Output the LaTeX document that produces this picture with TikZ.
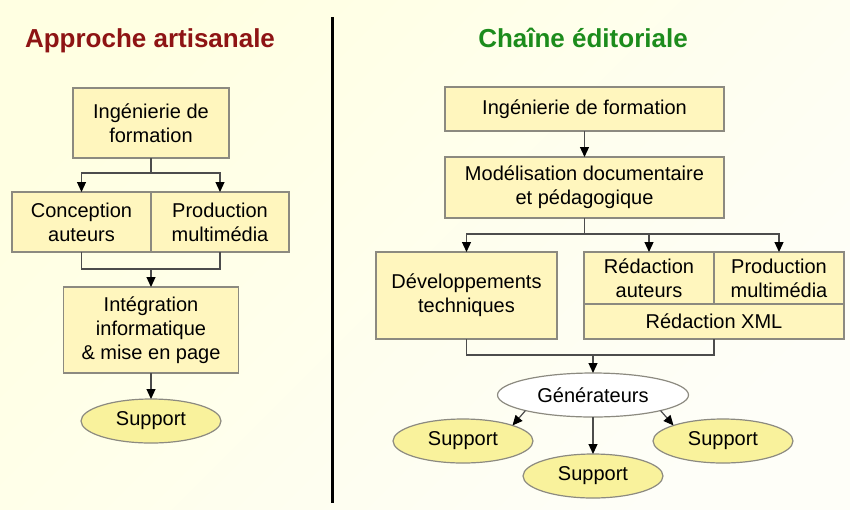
\documentclass[tikz,border=0pt]{standalone}
\usepackage{fontspec}
\setsansfont{Liberation Sans}
\usetikzlibrary{arrows.meta}
\usetikzlibrary{positioning}
\usetikzlibrary{shapes.geometric}
\definecolor{fondA}{HTML}{FFFFE2}
\definecolor{fondB}{HTML}{FEFEF8}
\definecolor{caseJaune}{HTML}{FFF6BE}
\definecolor{ovaleJaune}{HTML}{F9F29C}
\definecolor{cadre}{HTML}{8C8A80}
\definecolor{rougeTitre}{HTML}{8E1414}
\definecolor{vertTitre}{HTML}{1C8C1C}
\tikzset{
	>={Triangle[length=10pt,width=9pt,color=black]},
	bloc/.style={
		rectangle,
		draw=cadre, line width=1.2pt,
		fill=caseJaune,
		align=center,
		inner sep=0pt, outer sep=0pt},
	ovale/.style={
		ellipse,
		draw=cadre, line width=1.2pt,
		fill=ovaleJaune,
		inner sep=0pt, outer sep=0pt,
		minimum width=140pt,
		minimum height=44pt},
	titre/.style={font=\sffamily\bfseries\fontsize{26}{30}\selectfont, anchor=base},
	lien/.style={draw=black!70, line width=1.2pt},
	fleche/.style={lien, ->},
}

\begin{document}
\begin{tikzpicture}
	[x=1pt,y=-1pt,
	font=\sffamily\fontsize{20}{24}\selectfont]
	
	\useasboundingbox (0,0) rectangle (850,509);
	\shade[top color=fondA, bottom color=fondB, shading angle=45] (0,0) rectangle (850,509);
	\draw[line width=3pt] (332,17) -- (332,503);
	
	% approche artisanale
	\node[titre, text=rougeTitre] (titreA) at (150,47) {Approche artisanale};
	\node[bloc, minimum width=156pt, minimum height=70pt] (ingA) at (151,123) {Ingénierie de\\formation};
	\node[bloc, minimum width=139pt, minimum height=60pt] (concep) at (81.5,222) {Conception\\auteurs};
	\node[bloc, minimum width=138pt, minimum height=60pt, right=0pt of concep] (prodA) {Production\\multimédia};
	\node[bloc, minimum width=175pt, minimum height=86pt] (integ) at (151,330) {Intégration\\informatique\\\& mise en page};
	\node[ovale] (suppA) at (151,421) {Support};
	
	\coordinate (j1) at (151,173);
	\coordinate (j2) at (151,269);
	\draw[lien] (ingA) -- (j1);
	\draw[fleche] (j1) -| (concep);
	\draw[fleche] (j1) -| (prodA);
	\draw[lien] (concep) |- (j2) -| (prodA);
	\draw[fleche] (j2) -- (integ);
	\draw[fleche] (integ) -- (suppA);
	
	% chaine editoriale
	\node[titre, text=vertTitre] (titreB) at (583,47) {Chaîne éditoriale};
	\node[bloc, minimum width=279pt, minimum height=44pt] (ingB) at (584.5,109) {Ingénierie de formation};
	\node[bloc, minimum width=279pt, minimum height=61pt] (modeli) at (584.5,187.5) {Modélisation documentaire\\et pédagogique};
	\node[bloc, minimum width=181pt, minimum height=87pt] (devel) at (466.5,295.5) {Développements\\techniques};
	\node[bloc, minimum width=130pt, minimum height=52pt] (redac) at (649,278) {Rédaction\\auteurs};
	\node[bloc, minimum width=130pt, minimum height=52pt, right=0pt of redac] (prodB) {Production\\multimédia};
	\node[bloc, minimum width=260pt, minimum height=35pt, below=0pt of redac.south east] (xml) {Rédaction XML};
	\node[ovale, fill=white, minimum width=191pt] (gener) at (593,395) {Générateurs};
	\node[ovale] (suppG) at (463,441) {Support};
	\node[ovale] (suppM) at (593,476) {Support};
	\node[ovale] (suppD) at (723,441) {Support};
	
	\coordinate (j3) at (584.5,234);
	\coordinate (j4) at (593,355);
	\draw[fleche] (ingB) -- (modeli);
	\draw[lien] (modeli) -- (j3);
	\draw[fleche] (j3) -| (devel);
	\draw[fleche] (j3) -| (redac);
	\draw[fleche] (j3) -| (prodB);
	\draw[lien] (devel) |- (j4) -| (xml);
	\draw[fleche] (j4) -- (gener);
	\draw[fleche] (gener) -- (suppM);
	\draw[fleche] (gener.south west) -- (suppG.north east);
	\draw[fleche] (gener.south east) -- (suppD.north west);
	
\end{tikzpicture}
\end{document}
